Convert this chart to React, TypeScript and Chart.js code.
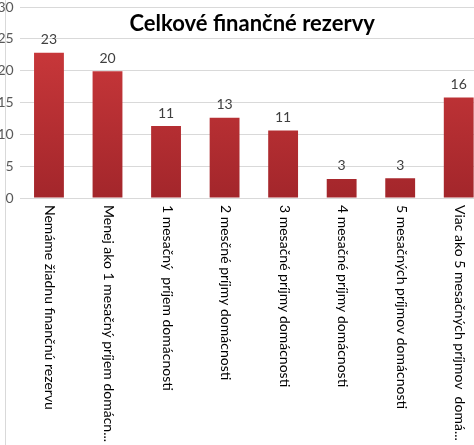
import { useEffect, useRef } from "react";
import { Chart, registerables, type ChartConfiguration, type Plugin } from "chart.js";

Chart.register(...registerables);

const categories = [
  "Nemáme žiadnu finančnú rezervu",
  "Menej ako 1 mesačný príjem domácn...",
  "1 mesačný  príjem domácnosti",
  "2 mesčné príjmy domácnosti",
  "3 mesačné príjmy domácnosti",
  "4 mesačné príjmy domácnosti",
  "5 mesačných príjmov domácnosti",
  "Viac ako 5 mesačných príjmov  domá...",
];
const values = [22.8, 19.9, 11.3, 12.6, 10.6, 3.0, 3.1, 15.8];
const title = "Celkové finančné rezervy";

const FONT = "Lato, 'Open Sans', sans-serif";

// title, value labels and clockwise-rotated category labels
const decorations: Plugin<"bar"> = {
  id: "decorations",
  beforeDraw(chart) {
    const { ctx, height } = chart;
    ctx.save();
    ctx.strokeStyle = "#d9d9d9";
    ctx.lineWidth = 1;
    ctx.beginPath();
    ctx.moveTo(15.5, 0);
    ctx.lineTo(15.5, height);
    ctx.stroke();
    ctx.restore();
  },
  afterDraw(chart) {
    const { ctx, chartArea } = chart;
    const meta = chart.getDatasetMeta(0);
    ctx.save();

    ctx.fillStyle = "#404040";
    ctx.font = `14px ${FONT}`;
    ctx.textAlign = "center";
    ctx.textBaseline = "bottom";
    meta.data.forEach((bar, i) => {
      ctx.fillText(String(Math.round(values[i])), bar.x, bar.y - 6);
    });

    ctx.fillStyle = "#000000";
    ctx.font = `14px ${FONT}`;
    ctx.textAlign = "left";
    ctx.textBaseline = "middle";
    meta.data.forEach((bar, i) => {
      ctx.save();
      ctx.translate(bar.x + 1, chartArea.bottom + 7);
      ctx.rotate(Math.PI / 2);
      ctx.fillText(categories[i], 0, 0);
      ctx.restore();
    });

    // title sized to the width it has in the original
    ctx.font = `bold 21px ${FONT}`;
    const w = ctx.measureText(title).width;
    const size = Math.min(22, (21 * 250) / w);
    ctx.font = `bold ${size}px ${FONT}`;
    ctx.fillStyle = "#000000";
    ctx.textAlign = "center";
    ctx.textBaseline = "alphabetic";
    ctx.fillText(title, chartArea.left + 232.5, 31);
    ctx.restore();
  },
};

const App = () => {
  const chartRef = useRef<HTMLCanvasElement | null>(null);
  const chartInstance = useRef<Chart | null>(null);

  useEffect(() => {
    if (chartRef.current) {
      const config: ChartConfiguration<"bar"> = {
        type: "bar",
        data: {
          labels: categories,
          datasets: [
            {
              data: values,
              backgroundColor: (c) => {
                const area = c.chart.chartArea;
                if (!area) return "#b83034";
                const g = c.chart.ctx.createLinearGradient(0, area.top, 0, area.bottom);
                g.addColorStop(0, "#d23c3e");
                g.addColorStop(1, "#a3262b");
                return g;
              },
              borderWidth: 0,
              barPercentage: 0.51,
              categoryPercentage: 1,
            },
          ],
        },
        options: {
          responsive: true,
          maintainAspectRatio: false,
          animation: false,
          layout: { padding: { top: 7, bottom: 247, left: 0, right: 0 } },
          plugins: {
            legend: { display: false },
            title: { display: false },
            tooltip: { enabled: false },
          },
          scales: {
            x: {
              ticks: { display: false },
              grid: { display: false, drawTicks: false },
              border: { display: false },
              afterFit: (scale) => {
                scale.height = 0;
              },
            },
            y: {
              min: 0,
              max: 30,
              ticks: {
                stepSize: 5,
                padding: 6,
                color: "#595959",
                font: { family: FONT, size: 14 },
              },
              grid: { color: "#d9d9d9", drawTicks: false },
              border: { display: false },
              afterFit: (scale) => {
                scale.width = 29.7;
                scale.paddingTop = 0;
                scale.paddingBottom = 0;
              },
            },
          },
        },
        plugins: [decorations],
      };

      chartInstance.current = new Chart(chartRef.current, config);
    }

    return () => {
      chartInstance.current?.destroy();
    };
  }, []);

  return (
    <div
      style={{
        position: "fixed",
        left: 0,
        top: 0,
        width: 474,
        height: 445,
        overflow: "hidden",
        background: "#fff",
      }}
    >
      <div style={{ position: "absolute", left: -10, top: 0, width: 498, height: 445 }}>
        <canvas ref={chartRef}></canvas>
      </div>
    </div>
  );
};

export default App;
